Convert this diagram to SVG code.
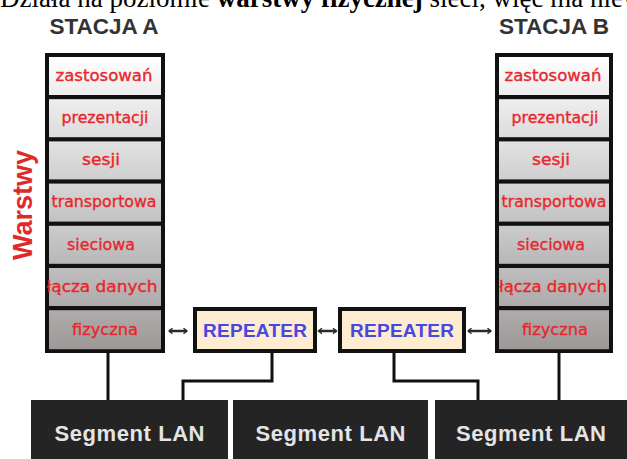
<svg xmlns="http://www.w3.org/2000/svg" width="627" height="459" viewBox="0 0 627 459">
<style>
.title{font-family:"Liberation Sans",Arial,sans-serif;font-weight:bold;font-size:22.5px;fill:#333333;text-anchor:middle}
.cap{font-family:"Liberation Serif","Times New Roman",serif;font-size:27px;fill:#000}
.lay{font-family:"DejaVu Sans",Verdana,sans-serif;font-size:16px;fill:#e8262b;text-anchor:middle;stroke:#e8262b;stroke-width:0.35}
.rep{font-family:"Liberation Sans",Arial,sans-serif;font-weight:bold;font-size:19px;fill:#4848dc;text-anchor:middle}
.seg{font-family:"Liberation Sans",Arial,sans-serif;font-weight:bold;font-size:22px;fill:#e4e4e4;text-anchor:middle}
.stack{fill:#111}
.repbox{fill:#fdecd0;stroke:#111;stroke-width:4}
.segbox{fill:#242424}
.wire{fill:none;stroke:#111;stroke-width:3}
.arr{fill:none;stroke:#2a2a2a;stroke-width:2.5}
</style>
<defs>
<linearGradient id="g1" x1="0" y1="0" x2="0" y2="1"><stop offset="0" stop-color="#ffffff"/><stop offset="1" stop-color="#ececec"/></linearGradient>
<linearGradient id="g2" x1="0" y1="0" x2="0" y2="1"><stop offset="0" stop-color="#eeeeee"/><stop offset="1" stop-color="#dcdcdc"/></linearGradient>
<linearGradient id="g3" x1="0" y1="0" x2="0" y2="1"><stop offset="0" stop-color="#e2e2e2"/><stop offset="1" stop-color="#cfcfcf"/></linearGradient>
<linearGradient id="g4" x1="0" y1="0" x2="0" y2="1"><stop offset="0" stop-color="#d6d6d6"/><stop offset="1" stop-color="#c3c3c3"/></linearGradient>
<linearGradient id="g5" x1="0" y1="0" x2="0" y2="1"><stop offset="0" stop-color="#cbcbcb"/><stop offset="1" stop-color="#b8b8b8"/></linearGradient>
<linearGradient id="g6" x1="0" y1="0" x2="0" y2="1"><stop offset="0" stop-color="#bfbdbd"/><stop offset="1" stop-color="#adabab"/></linearGradient>
<linearGradient id="g7" x1="0" y1="0" x2="0" y2="1"><stop offset="0" stop-color="#b0acac"/><stop offset="1" stop-color="#9c9898"/></linearGradient>
<marker id="ah" viewBox="0 0 10 10" refX="8" refY="5" markerWidth="7" markerHeight="7" markerUnits="userSpaceOnUse" orient="auto-start-reverse">
<path d="M3,1 L8,5 L3,9" fill="none" stroke="#2a2a2a" stroke-width="2"/>
</marker>
</defs>
<rect width="627" height="459" fill="#ffffff"/>

<text class="cap" x="0" y="7">Działa na poziomie <tspan font-weight="bold">warstwy fizycznej</tspan> sieci, więc ma niew</text>

<text x="0" y="0" transform="translate(32,205) rotate(-90)" font-family="Liberation Sans,Arial,sans-serif" font-weight="bold" font-size="27" fill="#e02a2a" text-anchor="middle">Warstwy</text>

<g id="stacjaA">
<text class="title" x="104" y="34">STACJA A</text>
<rect class="stack" x="45" y="53" width="120" height="300"/>
<rect x="49" y="57" width="112" height="38" fill="url(#g1)"/>
<rect x="49" y="99.2" width="112" height="38" fill="url(#g2)"/>
<rect x="49" y="141.4" width="112" height="38" fill="url(#g3)"/>
<rect x="49" y="183.6" width="112" height="38" fill="url(#g4)"/>
<rect x="49" y="225.8" width="112" height="38" fill="url(#g5)"/>
<rect x="49" y="268" width="112" height="38" fill="url(#g6)"/>
<rect x="49" y="310.2" width="112" height="39" fill="url(#g7)"/>
<text class="lay" x="104" y="81" textLength="97" lengthAdjust="spacingAndGlyphs">zastosowań</text>
<text class="lay" x="105" y="123" textLength="87" lengthAdjust="spacingAndGlyphs">prezentacji</text>
<text class="lay" x="101" y="165" textLength="38" lengthAdjust="spacingAndGlyphs">sesji</text>
<text class="lay" x="104" y="207" textLength="105" lengthAdjust="spacingAndGlyphs">transportowa</text>
<text class="lay" x="101" y="250" textLength="68" lengthAdjust="spacingAndGlyphs">sieciowa</text>
<text class="lay" x="102" y="292" textLength="111" lengthAdjust="spacingAndGlyphs">łącza danych</text>
<text class="lay" x="105" y="335" textLength="66" lengthAdjust="spacingAndGlyphs">fizyczna</text>
</g>

<g id="stacjaB">
<text class="title" x="554" y="34">STACJA B</text>
<rect class="stack" x="495" y="53" width="118" height="300"/>
<rect x="499" y="57" width="110" height="38" fill="url(#g1)"/>
<rect x="499" y="99.2" width="110" height="38" fill="url(#g2)"/>
<rect x="499" y="141.4" width="110" height="38" fill="url(#g3)"/>
<rect x="499" y="183.6" width="110" height="38" fill="url(#g4)"/>
<rect x="499" y="225.8" width="110" height="38" fill="url(#g5)"/>
<rect x="499" y="268" width="110" height="38" fill="url(#g6)"/>
<rect x="499" y="310.2" width="110" height="39" fill="url(#g7)"/>
<text class="lay" x="553" y="81" textLength="97" lengthAdjust="spacingAndGlyphs">zastosowań</text>
<text class="lay" x="555" y="123" textLength="87" lengthAdjust="spacingAndGlyphs">prezentacji</text>
<text class="lay" x="551" y="165" textLength="38" lengthAdjust="spacingAndGlyphs">sesji</text>
<text class="lay" x="554" y="207" textLength="105" lengthAdjust="spacingAndGlyphs">transportowa</text>
<text class="lay" x="551" y="250" textLength="68" lengthAdjust="spacingAndGlyphs">sieciowa</text>
<text class="lay" x="553" y="292" textLength="108" lengthAdjust="spacingAndGlyphs">łącza danych</text>
<text class="lay" x="555" y="335" textLength="66" lengthAdjust="spacingAndGlyphs">fizyczna</text>
</g>

<g id="repeater1">
<rect class="repbox" x="195" y="309" width="120" height="42"/>
<text class="rep" x="255" y="337" textLength="104">REPEATER</text>
</g>
<g id="repeater2">
<rect class="repbox" x="340" y="309" width="124" height="42"/>
<text class="rep" x="402" y="337" textLength="104">REPEATER</text>
</g>

<g id="segment1">
<rect class="segbox" x="31" y="400" width="197" height="59"/>
<text class="seg" x="129.5" y="441" textLength="150">Segment LAN</text>
</g>
<g id="segment2">
<rect class="segbox" x="233" y="400" width="195" height="59"/>
<text class="seg" x="330.5" y="441" textLength="150">Segment LAN</text>
</g>
<g id="segment3">
<rect class="segbox" x="435" y="400" width="192" height="59"/>
<text class="seg" x="531" y="441" textLength="150">Segment LAN</text>
</g>

<g id="connectors">
<path class="wire" d="M108,352 V400"/>
<path class="wire" d="M272,352 V381 H183 V400"/>
<path class="wire" d="M394,352 V381 H478 V400"/>
<path class="wire" d="M559,352 V400"/>
<path class="arr" d="M169,331 H187" marker-start="url(#ah)" marker-end="url(#ah)"/>
<path class="arr" d="M318.5,331 H336.5" marker-start="url(#ah)" marker-end="url(#ah)"/>
<path class="arr" d="M468,331 H491" marker-start="url(#ah)" marker-end="url(#ah)"/>
</g>
</svg>
